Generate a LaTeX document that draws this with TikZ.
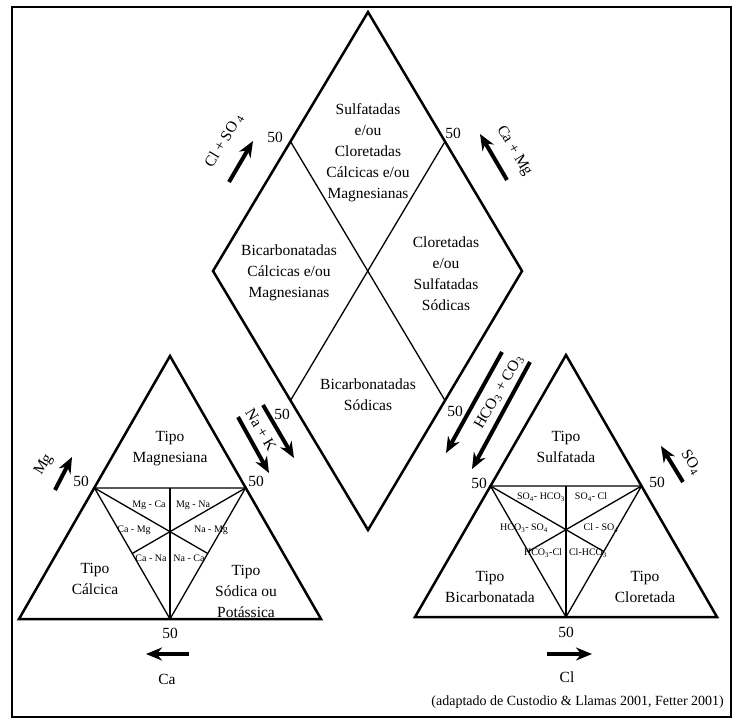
\documentclass[tikz,border=0pt]{standalone}
\usepackage{fontspec}
\setmainfont{Liberation Serif}
\usetikzlibrary{arrows.meta}
\begin{document}
\begin{tikzpicture}[x=1pt,y=-1pt,
  outline/.style={line width=2.5pt, line join=miter},
  innerln/.style={line width=1.3pt},
  lbl/.style={align=center, font=\fontsize{15.5}{21}\selectfont, inner sep=0pt},
  tiny/.style={font=\fontsize{10}{11}\selectfont, inner sep=0pt},
  fifty/.style={font=\fontsize{15.5}{17}\selectfont, inner sep=0pt},
  bigarrow/.style={line width=4pt, -{Stealth[length=16pt,width=13pt]}},
]
\useasboundingbox (0,0) rectangle (734,720);
\draw[line width=2.5pt] (12,7) rectangle (731,717);

% ---------- diamond ----------
\coordinate (dT) at (368,12);
\coordinate (dL) at (213,271);
\coordinate (dR) at (522,271);
\coordinate (dB) at (368,530);
\draw[outline] (dT) -- (dR) -- (dB) -- (dL) -- cycle;
\coordinate (mTL) at (290.5,141.5);
\coordinate (mTR) at (445,141.5);
\coordinate (mBL) at (290.5,400.5);
\coordinate (mBR) at (445,400.5);
\draw[innerln] (mTL) -- (mBR);
\draw[innerln] (mTR) -- (mBL);

\node[lbl] (dtop) at (368,153) {Sulfatadas\\e/ou\\Cloretadas\\Cálcicas e/ou\\Magnesianas};
\node[lbl] (dleft) at (289,273) {Bicarbonatadas\\Cálcicas e/ou\\Magnesianas};
\node[lbl] (dright) at (446,274) {Cloretadas\\e/ou\\Sulfatadas\\Sódicas};
\node[lbl] (dbot) at (368,395) {Bicarbonatadas\\Sódicas};

\node[fifty] (f1) at (275,137) {50};
\node[fifty] (f2) at (453,133) {50};
\node[fifty] (f3) at (282,414) {50};
\node[fifty] (f4) at (455,411) {50};

% arrows around diamond
\coordinate (a1s) at (229,182); \coordinate (a1e) at (253,141);
\draw[bigarrow] (a1s) -- (a1e);
\node[lbl, rotate=59] (t1) at (224,141) {Cl + SO\,\textsubscript{4}};

\coordinate (a2s) at (507,180); \coordinate (a2e) at (480,134);
\draw[bigarrow] (a2s) -- (a2e);
\node[lbl, rotate=-59] (t2) at (514,151) {Ca + Mg};

\coordinate (a3s) at (263,405); \coordinate (a3e) at (294,458);
\coordinate (a4s) at (238,417); \coordinate (a4e) at (269,473);
\draw[bigarrow] (a3s) -- (a3e);
\draw[bigarrow] (a4s) -- (a4e);
\node[lbl, rotate=-59] (t3) at (261,430) {Na + K};

\coordinate (a5s) at (502,352); \coordinate (a5e) at (446,453);
\coordinate (a6s) at (530,362); \coordinate (a6e) at (472,469);
\draw[bigarrow] (a5s) -- (a5e);
\draw[bigarrow] (a6s) -- (a6e);
\node[lbl, rotate=60] (t4) at (499,392) {HCO\textsubscript{3} + CO\textsubscript{3}};

% ---------- left triangle ----------
\coordinate (lA) at (19,619);
\coordinate (lB) at (321,619);
\coordinate (lC) at (170,356);
\coordinate (lML) at (94.5,488);
\coordinate (lMR) at (245.5,488);
\coordinate (lMB) at (170,619);
\coordinate (lMM) at (170,488);
\coordinate (lQ1) at (207.75,553.5);
\coordinate (lQ2) at (132.25,553.5);
\draw[outline] (lA) -- (lB) -- (lC) -- cycle;
\draw[innerln] (lML) -- (lMR) -- (lMB) -- cycle;
\draw[innerln] (lMM) -- (lMB);
\draw[innerln] (lML) -- (lQ1);
\draw[innerln] (lMR) -- (lQ2);

\node[lbl] (lt1) at (170,449) {Tipo\\Magnesiana};
\node[lbl] (lt2) at (95,579) {Tipo\\Cálcica};
\node[lbl] (lt3) at (246,591) {Tipo\\Sódica ou\\Potássica};

\node[tiny] (ls1) at (149,505) {Mg - Ca};
\node[tiny] (ls2) at (193,505) {Mg - Na};
\node[tiny] (ls3) at (134,530) {Ca - Mg};
\node[tiny] (ls4) at (211,530) {Na - Mg};
\node[tiny] (ls5) at (151,558) {Ca - Na};
\node[tiny] (ls6) at (189,558) {Na - Ca};

\node[fifty] (lf1) at (81,481) {50};
\node[fifty] (lf2) at (256,481) {50};
\node[fifty] (lf3) at (170,633) {50};

\coordinate (a7s) at (55,490); \coordinate (a7e) at (72,457);
\draw[bigarrow] (a7s) -- (a7e);
\node[lbl, rotate=59] (t7) at (44,465) {Mg};

\coordinate (a8s) at (189,654); \coordinate (a8e) at (146,654);
\draw[bigarrow] (a8s) -- (a8e);
\node[lbl] (t8) at (167,679) {Ca};

% ---------- right triangle ----------
\coordinate (rA) at (415,617);
\coordinate (rB) at (717,617);
\coordinate (rC) at (566,355);
\coordinate (rML) at (490.5,486);
\coordinate (rMR) at (641.5,486);
\coordinate (rMB) at (566,617);
\coordinate (rMM) at (566,486);
\coordinate (rQ1) at (603.75,551.5);
\coordinate (rQ2) at (528.25,551.5);
\draw[outline] (rA) -- (rB) -- (rC) -- cycle;
\draw[innerln] (rML) -- (rMR) -- (rMB) -- cycle;
\draw[innerln] (rMM) -- (rMB);
\draw[innerln] (rML) -- (rQ1);
\draw[innerln] (rMR) -- (rQ2);

\node[lbl] (rt1) at (566,447) {Tipo\\Sulfatada};
\node[lbl] (rt2) at (490,587) {Tipo\\Bicarbonatada};
\node[lbl] (rt3) at (645,587) {Tipo\\Cloretada};

\node[tiny] (rs1) at (541,497) {SO\textsubscript{4}- HCO\textsubscript{3}};
\node[tiny] (rs2) at (591,497) {SO\textsubscript{4}- Cl};
\node[tiny] (rs3) at (524,528) {HCO\textsubscript{3}- SO\textsubscript{4}};
\node[tiny] (rs4) at (601,528) {Cl - SO\textsubscript{4}};
\node[tiny] (rs5) at (543,553) {HCO\textsubscript{3}-Cl};
\node[tiny] (rs6) at (588,553) {Cl-HCO\textsubscript{3}};

\node[fifty] (rf1) at (479,483) {50};
\node[fifty] (rf2) at (657,482) {50};
\node[fifty] (rf3) at (566,632) {50};

\coordinate (a9s) at (683,482); \coordinate (a9e) at (661,446);
\draw[bigarrow] (a9s) -- (a9e);
\node[lbl, rotate=-59] (t9) at (691,462) {SO\textsubscript{4}};

\coordinate (a10s) at (547,654); \coordinate (a10e) at (592,654);
\draw[bigarrow] (a10s) -- (a10e);
\node[lbl] (t10) at (567,677) {Cl};

\node[lbl, anchor=east, font=\fontsize{14}{16}\selectfont] (cap) at (724,702) {(adaptado de Custodio \& Llamas 2001, Fetter 2001)};
\end{tikzpicture}
\end{document}
